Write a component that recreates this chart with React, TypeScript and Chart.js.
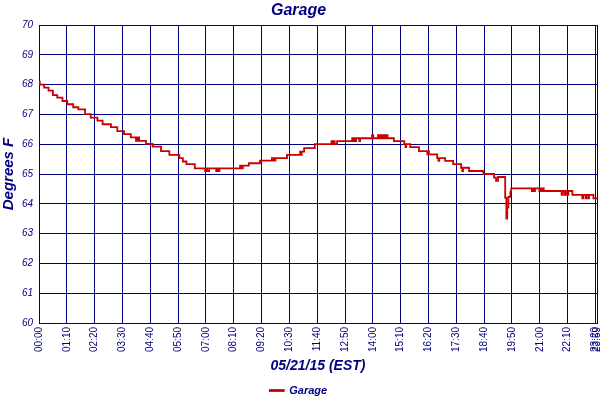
import { useEffect, useRef } from "react";
import { Chart, registerables } from "chart.js";

Chart.register(...registerables);

const chartTitle = "Garage";
const seriesName = "Garage";
const xAxisTitle = "05/21/15 (EST)";
const yAxisTitle = "Degrees F";

const tickLabels = [
  "00:00", "01:10", "02:20", "03:30", "04:40", "05:50", "07:00", "08:10",
  "09:20", "10:30", "11:40", "12:50", "14:00", "15:10", "16:20", "17:30",
  "18:40", "19:50", "21:00", "22:10", "23:20", "23:59",
];
// minutes since midnight for each tick (last one is the end of the axis)
const tickMinutes = [
  0, 70, 140, 210, 280, 350, 420, 490, 560, 630, 700, 770, 840, 910, 980,
  1050, 1120, 1190, 1260, 1330, 1400, 1404,
];

const sampleMinutes = [
  0, 2, 13, 24, 35, 46, 59, 71, 86, 99, 116, 130, 147, 160, 181, 197, 214, 231,
  244, 246, 249, 250, 252, 269, 286, 307, 328, 353, 362, 371, 392,
  418, 420, 423, 428, 446, 448, 452, 454, 506, 509, 513, 528, 556, 586, 588,
  591, 593, 595, 624, 657, 659, 661, 667, 694, 736, 738, 742, 744, 750, 788,
  790, 793, 796, 798, 806, 808, 838, 841, 853, 855, 858, 860, 863, 865, 868,
  871, 874, 877, 893, 919, 922, 924, 934, 956, 977, 979, 981, 1002, 1005, 1007,
  1022, 1042, 1062, 1065, 1067, 1082, 1118, 1145, 1150, 1155, 1173, 1176, 1178,
  1181, 1186, 1188, 1240, 1242, 1246, 1248, 1259, 1262, 1264, 1268, 1270, 1315,
  1317, 1322, 1324, 1326, 1332, 1342, 1367, 1369, 1375, 1377, 1382, 1384, 1395,
  1404,
];
const sampleTemps = [
  68.1, 68.0, 67.9, 67.8, 67.65, 67.56, 67.45, 67.34, 67.24, 67.17, 67.01, 66.89,
  66.79, 66.67, 66.57, 66.44, 66.34, 66.23,
  66.11, 66.23, 66.11, 66.23, 66.11, 66.01, 65.92, 65.77, 65.64, 65.53, 65.42,
  65.33, 65.19,
  65.1, 65.19, 65.1, 65.19, 65.1, 65.19, 65.1, 65.19, 65.28, 65.19, 65.28, 65.36,
  65.45, 65.53, 65.45,
  65.53, 65.45, 65.53, 65.64, 65.75, 65.64, 65.75, 65.87, 66.0, 66.1, 66.0, 66.1,
  66.0, 66.1, 66.2,
  66.1, 66.2, 66.1, 66.2, 66.1, 66.2, 66.3, 66.2, 66.3, 66.2, 66.3, 66.2, 66.3,
  66.2, 66.3,
  66.2, 66.3, 66.2, 66.1, 66.0, 65.9, 66.0, 65.9, 65.77, 65.66, 65.77, 65.66,
  65.53, 65.44, 65.53,
  65.44, 65.33, 65.21, 65.1, 65.21, 65.1, 65.0, 64.88, 64.77, 64.9, 64.2, 63.5,
  63.87,
  64.23, 64.4, 64.52, 64.43, 64.52, 64.43, 64.52, 64.43, 64.52, 64.43, 64.52,
  64.43, 64.3,
  64.43, 64.3, 64.43, 64.3, 64.43, 64.3, 64.18, 64.3, 64.18, 64.3, 64.18, 64.3,
  64.18,
  64.18,
];

const NAVY = "#000080";
const RED = "#cc0000";
const FAMILY = "'Liberation Sans', Arial, sans-serif";

export default function App() {
  const canvasRef = useRef<HTMLCanvasElement | null>(null);

  useEffect(() => {
    if (!canvasRef.current) return;
    const points = sampleMinutes.map((m, i) => ({ x: m, y: sampleTemps[i] }));
    const chart = new Chart(canvasRef.current, {
      type: "line",
      data: {
        datasets: [
          {
            label: seriesName,
            data: points,
            borderColor: RED,
            backgroundColor: RED,
            borderWidth: 1.8,
            pointRadius: 0,
            stepped: true,
            fill: false,
          },
        ],
      },
      options: {
        responsive: false,
        animation: false,
        layout: { padding: { left: 0, right: 3, top: 0, bottom: -6 } },
        plugins: {
          title: {
            display: true,
            text: chartTitle,
            color: NAVY,
            font: { family: FAMILY, size: 16, weight: "bold", style: "italic" },
            padding: { top: 1, bottom: 4.8 },
          },
          legend: {
            position: "bottom",
            labels: {
              color: NAVY,
              font: { family: FAMILY, size: 11, weight: "bold", style: "italic" },
              boxWidth: 14,
              boxHeight: 1,
              padding: 4,
            },
          },
          tooltip: { enabled: false },
        },
        scales: {
          x: {
            type: "linear",
            min: 0,
            max: tickMinutes[tickMinutes.length - 1],
            afterBuildTicks: (s: any) => {
              s.ticks = tickMinutes.map((v) => ({ value: v }));
            },
            afterFit: (s: any) => {
              s.height = 58;
              s.paddingLeft = 0;
              s.paddingRight = 0;
            },
            ticks: {
              autoSkip: false,
              maxRotation: 90,
              minRotation: 90,
              padding: 4,
              color: NAVY,
              font: { family: FAMILY, size: 10 },
              callback: (_v: any, i: number) => tickLabels[i],
            },
            grid: { color: NAVY, lineWidth: 1, drawTicks: false },
            border: { color: NAVY, width: 1 },
            title: {
              display: true,
              text: xAxisTitle,
              color: NAVY,
              font: { family: FAMILY, size: 14, weight: "bold", style: "italic" },
              padding: { top: 0, bottom: 6.6 },
            },
          },
          y: {
            min: 60,
            max: 70,
            afterFit: (s: any) => {
              s.width = 39;
              s.paddingTop = 0;
              s.paddingBottom = 0;
            },
            ticks: {
              stepSize: 1,
              padding: 6,
              color: NAVY,
              font: { family: FAMILY, size: 10, style: "italic" },
            },
            grid: { color: NAVY, lineWidth: 1, drawTicks: false },
            border: { color: NAVY, width: 1 },
            title: {
              display: true,
              text: yAxisTitle,
              color: NAVY,
              font: { family: FAMILY, size: 15, weight: "bold", style: "italic" },
              padding: { top: 0, bottom: 0 },
            },
          },
        },
      },
    } as any);
    return () => chart.destroy();
  }, []);

  return (
    <div style={{ position: "absolute", left: 0, top: 0, width: 600, height: 400, background: "#fff" }}>
      <canvas ref={canvasRef} width={600} height={400} style={{ display: "block" }} />
    </div>
  );
}
